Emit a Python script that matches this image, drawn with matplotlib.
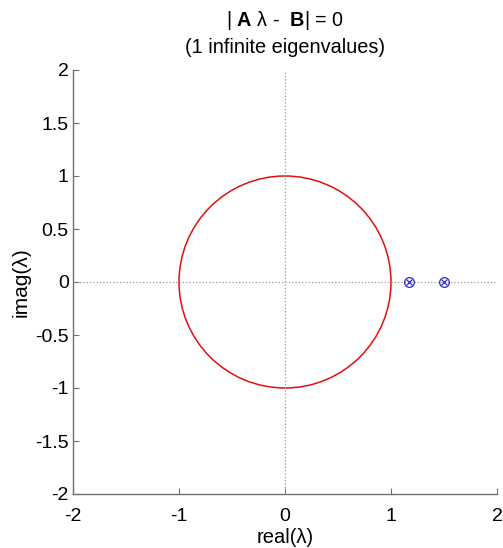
import matplotlib
matplotlib.use('Agg')
import matplotlib.pyplot as plt
import numpy as np

plt.rcParams['font.family'] = ['Liberation Sans', 'DejaVu Sans']
plt.rcParams['mathtext.fontset'] = 'custom'
plt.rcParams['mathtext.rm'] = 'Liberation Sans'
plt.rcParams['mathtext.bf'] = 'Liberation Sans:bold'
plt.rcParams['mathtext.it'] = 'Liberation Sans'

# data
circle_radius = 1.0
eig_real = [1.17, 1.50]
eig_imag = [0.0, 0.0]
ticks = [-2, -1.5, -1, -0.5, 0, 0.5, 1, 1.5, 2]
xticks = [-2, -1, 0, 1, 2]

fig = plt.figure(figsize=(5.03, 5.48), dpi=100)
ax = fig.add_axes([73/503, 1-494/548, (497-73)/503, (494-70)/548])

ax.axhline(0, color='#999999', linestyle=':', linewidth=0.9)
ax.axvline(0, color='#999999', linestyle=':', linewidth=0.9)

circ = plt.Circle((0, 0), circle_radius, fill=False, color='#e01010', linewidth=1.1)
ax.add_patch(circ)

ax.plot(eig_real, eig_imag, linestyle='none', marker='o', markersize=7,
        markerfacecolor='none', markeredgecolor='#3030c0', markeredgewidth=0.9)
ax.plot(eig_real, eig_imag, linestyle='none', marker='x', markersize=5,
        markeredgecolor='#3030c0', markeredgewidth=0.9)

ax.set_xlim(-2, 2)
ax.set_ylim(-2, 2)
ax.set_xticks(xticks)
ax.set_yticks(ticks)
ax.set_yticklabels(['-2', '-1.5', '-1', '-0.5', '0', '0.5', '1', '1.5', '2'])
ax.set_xticklabels(['-2', '-1', '0', '1', '2'])

for s in ['top', 'right']:
    ax.spines[s].set_visible(False)
for s in ['left', 'bottom']:
    ax.spines[s].set_color('#707070')
    ax.spines[s].set_linewidth(1.0)
ax.tick_params(direction='in', length=4, color='#707070', labelsize=14)
ax.tick_params(axis='y', pad=3)
ax.tick_params(axis='x', pad=10)

ax.set_xlabel('real(λ)', fontsize=14.5, labelpad=2)
ax.set_ylabel('imag(λ)', fontsize=15, labelpad=3)
ax.set_title(r'| $\mathbf{A}$ λ -  $\mathbf{B}$| = 0'
             '\n(1 infinite eigenvalues)', fontsize=14.3, pad=12, linespacing=1.45)

plt.savefig('out.png', dpi=100)
